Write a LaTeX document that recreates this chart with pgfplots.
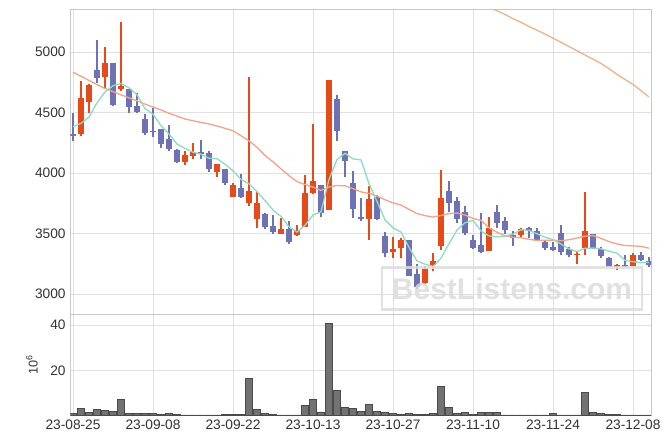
\documentclass[border=0pt]{standalone}
\usepackage{fontspec}
\setmainfont{Liberation Sans}
\usepackage{pgfplots}
\usepackage{pgfplotstable}
\pgfplotsset{compat=1.18}
\definecolor{upc}{HTML}{E64A19}
\definecolor{dnc}{HTML}{6E71B3}
\definecolor{ma5c}{HTML}{8FDCC2}
\definecolor{ma20c}{HTML}{F2A58A}
\definecolor{ma60c}{HTML}{EBB48C}
\definecolor{gridc}{HTML}{E0E0E0}
\definecolor{axc}{HTML}{C8C8C8}
\definecolor{volc}{HTML}{727272}
\definecolor{vold}{HTML}{4A4A4A}
\definecolor{wm}{HTML}{DCDCDC}
\definecolor{tc}{HTML}{333333}

\pgfplotstableread{
i o h l c
1 4325 4760 4305 4620
2 4590 4735 4495 4730
4 4790 5045 4690 4905
6 4690 5250 4680 4715
14 4090 4180 4070 4145
15 4140 4245 4115 4175
18 4010 4078 3970 4075
20 3805 3920 3800 3900
22 3750 4790 3725 3855
23 3620 3840 3545 3750
26 3495 3630 3492 3540
28 3485 3572 3483 3532
29 3557 3980 3555 3832
30 3832 4403 3828 3936
32 3697 4770 3695 4768
37 3617 3890 3445 3787
40 3344 3468 3300 3372
41 3377 3462 3297 3446
44 3090 3235 3085 3205
45 3240 3339 3187 3276
46 3397 4027 3364 3790
52 3358 3634 3356 3548
56 3488 3548 3466 3535
63 3320 3357 3248 3331
64 3377 3842 3322 3521
68 3226 3248 3195 3240
70 3234 3336 3232 3322
}\upT

\pgfplotstableread{
i o h l c
0 4325 4493 4261 4306
3 4855 5095 4745 4785
5 4905 4910 4550 4565
7 4690 4695 4495 4545
8 4555 4660 4495 4505
9 4445 4490 4310 4330
10 4350 4535 4295 4335
11 4360 4365 4205 4240
12 4280 4395 4180 4200
13 4190 4195 4080 4095
16 4175 4275 4115 4160
17 4165 4185 4010 4035
19 4030 4032 3900 3920
21 3880 3990 3795 3805
24 3665 3670 3540 3550
25 3560 3655 3495 3510
27 3540 3600 3413 3428
31 3900 3903 3635 3667
33 4610 4647 4262 4350
34 4182 4185 3965 4096
35 3917 4013 3628 3706
36 3640 3793 3600 3618
38 3805 3820 3615 3620
39 3480 3512 3306 3336
42 3446 3450 3148 3150
43 3165 3248 3040 3060
47 3850 3937 3681 3755
48 3770 3800 3585 3618
49 3674 3724 3485 3505
50 3446 3490 3375 3377
51 3405 3667 3342 3350
53 3680 3738 3543 3585
54 3603 3634 3499 3528
55 3488 3517 3397 3460
57 3543 3556 3466 3523
58 3517 3543 3440 3446
59 3426 3446 3360 3380
60 3388 3426 3357 3365
61 3504 3567 3322 3350
62 3372 3392 3306 3322
65 3496 3500 3373 3378
66 3369 3392 3300 3318
67 3295 3306 3220 3226
69 3240 3322 3220 3227
71 3322 3350 3273 3281
72 3276 3306 3220 3242
}\dnT

\pgfplotstableread{
i v
0 4383
1 4410
2 4462
3 4580
4 4669
5 4721
6 4740
7 4703
8 4647
9 4532
10 4486
11 4391
12 4322
13 4240
14 4203
15 4171
16 4155
17 4122
18 4118
19 4073
20 4018
21 3947
22 3911
23 3846
24 3772
25 3694
26 3641
27 3556
28 3512
29 3568
30 3654
31 3679
32 3947
33 4111
34 4163
35 4117
36 4108
37 3911
38 3765
39 3613
40 3547
41 3512
42 3385
43 3273
44 3247
45 3227
46 3296
47 3417
48 3529
49 3589
50 3609
51 3521
52 3480
53 3473
54 3478
55 3494
56 3531
57 3526
58 3498
59 3469
60 3450
61 3413
62 3373
63 3350
64 3378
65 3380
66 3374
67 3355
68 3337
69 3278
70 3267
71 3259
72 3262
}\maFive

\pgfplotstableread{
i v
0 4833
1 4799
2 4765
3 4731
4 4698
5 4672
6 4646
7 4621
8 4596
9 4569
10 4546
11 4521
12 4493
13 4470
14 4446
15 4432
16 4418
17 4405
18 4388
19 4369
20 4349
21 4308
22 4265
23 4213
24 4145
25 4092
26 4034
27 3978
28 3929
29 3904
30 3884
31 3856
32 3884
33 3897
34 3894
35 3871
36 3844
37 3831
38 3809
39 3779
40 3753
41 3735
42 3700
43 3665
44 3648
45 3636
46 3649
47 3665
48 3669
49 3653
50 3625
51 3609
52 3548
53 3510
54 3482
55 3469
56 3465
57 3452
58 3443
59 3445
60 3445
61 3440
62 3449
63 3462
64 3478
65 3483
66 3460
67 3433
68 3414
69 3401
70 3398
71 3394
72 3379
}\maTwenty

\pgfplotstableread{
i v
50 5430
51 5400
52 5370
53 5340
54 5310
55 5275
56 5245
57 5210
58 5180
59 5148
60 5114
61 5080
62 5045
63 5010
64 4975
65 4940
66 4905
67 4862
68 4815
69 4773
70 4732
71 4680
72 4628
}\maLong

\pgfplotstableread{
i v
0 0.9
1 3.1
2 1.3
3 2.7
4 2.2
5 1.8
6 7.1
7 0.9
8 0.9
9 0.9
10 0.7
11 0.3
12 0.9
13 0.3
14 0.2
15 0.2
16 0.2
17 0.2
18 0.2
19 0.3
20 0.3
21 0.3
22 16.4
23 2.7
24 0.9
25 0.3
26 0.2
27 0.2
28 0.2
29 4.4
30 7.1
31 1.5
32 40.9
33 11.1
34 3.6
35 3.1
36 1.8
37 4.9
38 1.9
39 1.5
40 0.9
41 0.3
42 0.9
43 0.3
44 0.3
45 0.9
46 12.9
47 3.6
48 0.9
49 1.3
50 0.3
51 1.3
52 1.3
53 1.3
54 0.2
55 0.2
56 0.2
57 0.2
58 0.2
59 0.2
60 0.9
61 0.2
62 0.2
63 0.2
64 10.2
65 1.3
66 0.9
67 0.3
68 0.3
69 0.2
70 0.2
71 0.2
72 0.2
}\volT

\pgfplotsset{
  base/.style={
    scale only axis,
    anchor=south west,
    width=435.525pt,
    xmin=-0.34, xmax=72.25,
    xtick={0,10,...,70},
    grid=major,
    grid style={color=gridc, line width=0.7pt},
    axis line style={color=axc, line width=0.7pt},
    major tick length=0pt,
    tick style={draw=none},
    tick label style={font=\fontsize{10.3}{12}\selectfont, text=tc},
    /pgf/number format/assume math mode=true,
    /pgf/number format/1000 sep={},
  },
  candle/.style 2 args={draw=none, mark=none, mark size=0pt, forget plot,
    error bars/.cd, y dir=plus, y explicit, error mark=none,
    error bar style={line width=#1, draw=#2}},
}

\begin{document}
\begin{tikzpicture}
\useasboundingbox (0,0) rectangle (503.25pt,333pt);

\begin{axis}[base,
  at={(52.725pt,97.5pt)},
  height=228.75pt,
  ymin=2835, ymax=5355,
  ytick={3000,3500,...,5000},
  xticklabels={},
  clip=true,
]
% wicks
\addplot[candle={0.8pt}{upc}]
  table[x=i, y=l, y error expr=\thisrow{h}-\thisrow{l}] {\upT};
\addplot[candle={0.8pt}{dnc}]
  table[x=i, y=l, y error expr=\thisrow{h}-\thisrow{l}] {\dnT};
% bodies
\addplot[candle={4.1pt}{upc}]
  table[x=i, y=o, y error expr={max(\thisrow{c}-\thisrow{o},8)}] {\upT};
\addplot[candle={4.1pt}{dnc}]
  table[x=i, y=c, y error expr={max(\thisrow{o}-\thisrow{c},8)}] {\dnT};
% moving averages
\addplot[color=ma60c, line width=1.0pt, mark=none] table[x=i,y=v] {\maLong};
\addplot[color=ma20c, line width=1.0pt, mark=none] table[x=i,y=v] {\maTwenty};
\addplot[color=ma5c, line width=1.0pt, mark=none] table[x=i,y=v] {\maFive};
\end{axis}

\begin{axis}[base,
  at={(52.725pt,21.525pt)},
  height=75.975pt,
  ymin=0, ymax=45,
  ytick={20,40},
  xticklabels={23-08-25,23-09-08,23-09-22,23-10-13,23-10-27,23-11-10,23-11-24,23-12-08},
  ylabel={10\textsuperscript{6}},
  ylabel style={at={(axis description cs:-0.066,0.5)}, anchor=center, font=\fontsize{9.5}{10}\selectfont, text=tc},
]
\addplot[ybar, bar width=0.85, fill=volc, draw=vold, line width=0.4pt] table[x=i,y=v] {\volT};
\end{axis}

\node[draw=wm, line width=2.2pt, text=wm, opacity=0.85,
  font=\bfseries\fontsize{22.5}{24}\selectfont,
  minimum width=195pt, minimum height=32pt, inner sep=0pt]
  at (384pt,116.6pt) {BestListens.com};
\end{tikzpicture}
\end{document}
